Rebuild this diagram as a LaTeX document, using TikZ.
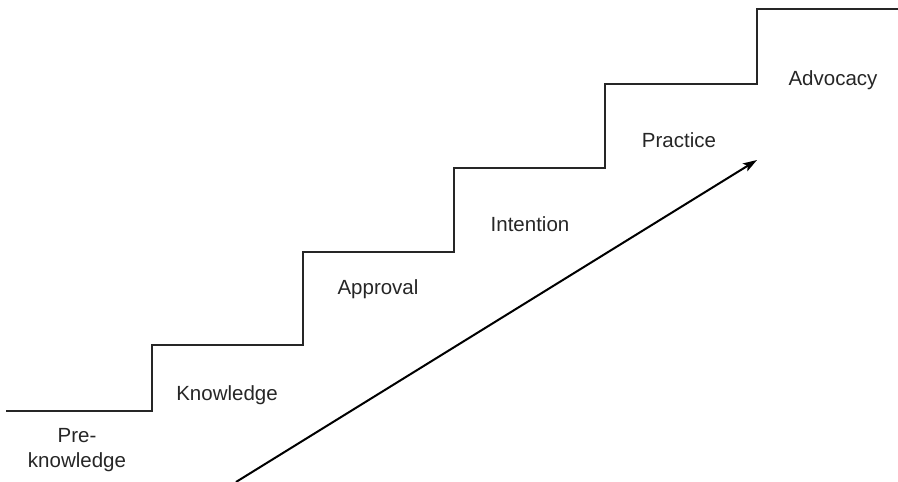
\documentclass[tikz,border=0pt]{standalone}
\usepackage{fontspec}
\setmainfont{Liberation Sans}
\usetikzlibrary{arrows.meta}
\begin{document}
\begin{tikzpicture}[x=1pt,y=-1pt]
        \tikzstyle{stairline}=[line width=1.3pt, black!85]
        \tikzstyle{steplabel}=[inner sep=0pt, align=center, font=\fontsize{20.5}{25}\selectfont, text=black!85]
        \useasboundingbox (0,0) rectangle (898,482);
        % the stairs
        \draw[stairline] (6,411)
            \foreach \xs/\ys in {152/345,303/252,454/168,605/84,757/9} { -| (\xs,\ys) }
            -- (898,9);
        % labels on each step
        \node[steplabel] (preknow) at (77,450) {Pre-\\knowledge};
        \node[steplabel, anchor=base] (know) at (227,400) {Knowledge};
        \node[steplabel, anchor=base] (appr) at (378,294) {Approval};
        \node[steplabel, anchor=base] (inten) at (530,231) {Intention};
        \node[steplabel, anchor=base] (prac) at (679,147) {Practice};
        \node[steplabel, anchor=base] (advo) at (833,85) {Advocacy};
        % the rising arrow
        \coordinate (arrowstart) at (236,482);
        \coordinate (arrowend) at (757,160);
        \draw[line width=2pt, -{Stealth[length=14pt, width=9pt, inset=3pt]}] (arrowstart) -- (arrowend);
\end{tikzpicture}
\end{document}
